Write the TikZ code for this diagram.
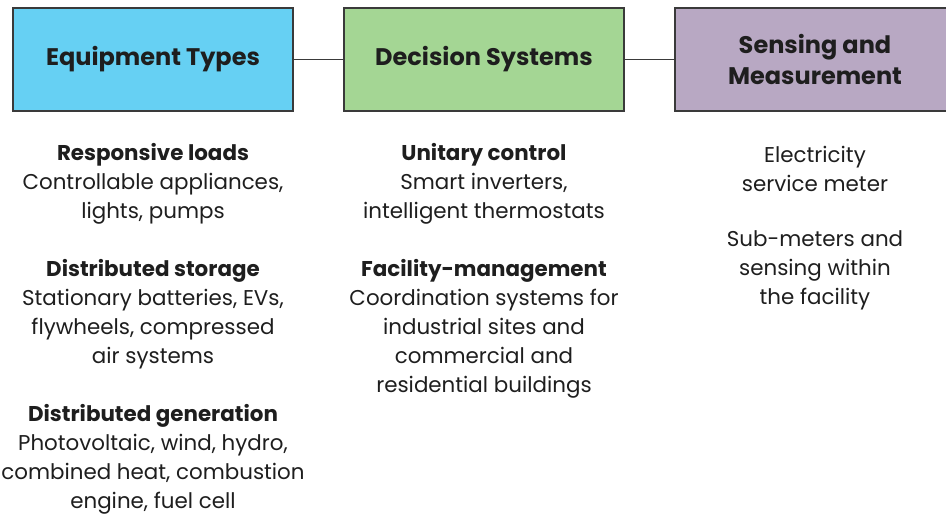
\documentclass[tikz,border=0pt]{standalone}
\usepackage{fontspec}
\setmainfont{Poppins}
\definecolor{eqcol}{HTML}{66D0F3}
\definecolor{decol}{HTML}{A4D694}
\definecolor{secol}{HTML}{B8A8C3}
\definecolor{edgecol}{HTML}{3A3A3A}
\definecolor{txtcol}{HTML}{1E1E1E}
\tikzset{
  hbox/.style={draw=edgecol, line width=1.6pt, minimum width=280pt, minimum height=103pt, inner sep=0pt,
    font=\fontsize{24}{31}\selectfont\bfseries, text=txtcol, align=center},
  grp/.style={font=\fontsize{21.4}{29}\selectfont, text=txtcol, align=center, inner sep=0pt},
  link/.style={draw=edgecol, line width=1.6pt}
}
\begin{document}
\begin{tikzpicture}[x=1pt,y=-1pt]
\useasboundingbox (0,0) rectangle (946,514);
\begin{scope}
\clip (0,0) rectangle (946,514);
\node[hbox, fill=eqcol] (eq) at (153,59.5) {Equipment Types};
\node[hbox, fill=decol] (de) at (484,59.5) {Decision Systems};
\node[hbox, fill=secol] (se) at (815,59.5) {Sensing and\\Measurement};
\end{scope}
\draw[link] (eq.east) -- (de.west);
\draw[link] (de.east) -- (se.west);

\node[grp] (eqa) at (153,183.5) {\textbf{Responsive loads}\\Controllable appliances,\\lights, pumps};
\node[grp] (eqb) at (153,314) {\textbf{Distributed storage}\\Stationary batteries, EVs,\\flywheels, compressed\\air systems};
\node[grp] (eqc) at (153,459) {\textbf{Distributed generation}\\Photovoltaic, wind, hydro,\\combined heat, combustion\\engine, fuel cell};

\node[grp] (dea) at (484,183.5) {\textbf{Unitary control}\\Smart inverters,\\intelligent thermostats};
\node[grp] (deb) at (484,328.5) {\textbf{Facility-management}\\Coordination systems for\\industrial sites and\\commercial and\\residential buildings};

\node[grp] (sea) at (815,169) {Electricity\\service meter};
\node[grp] (seb) at (815,270.5) {Sub-meters and\\sensing within\\the facility};
\end{tikzpicture}
\end{document}
